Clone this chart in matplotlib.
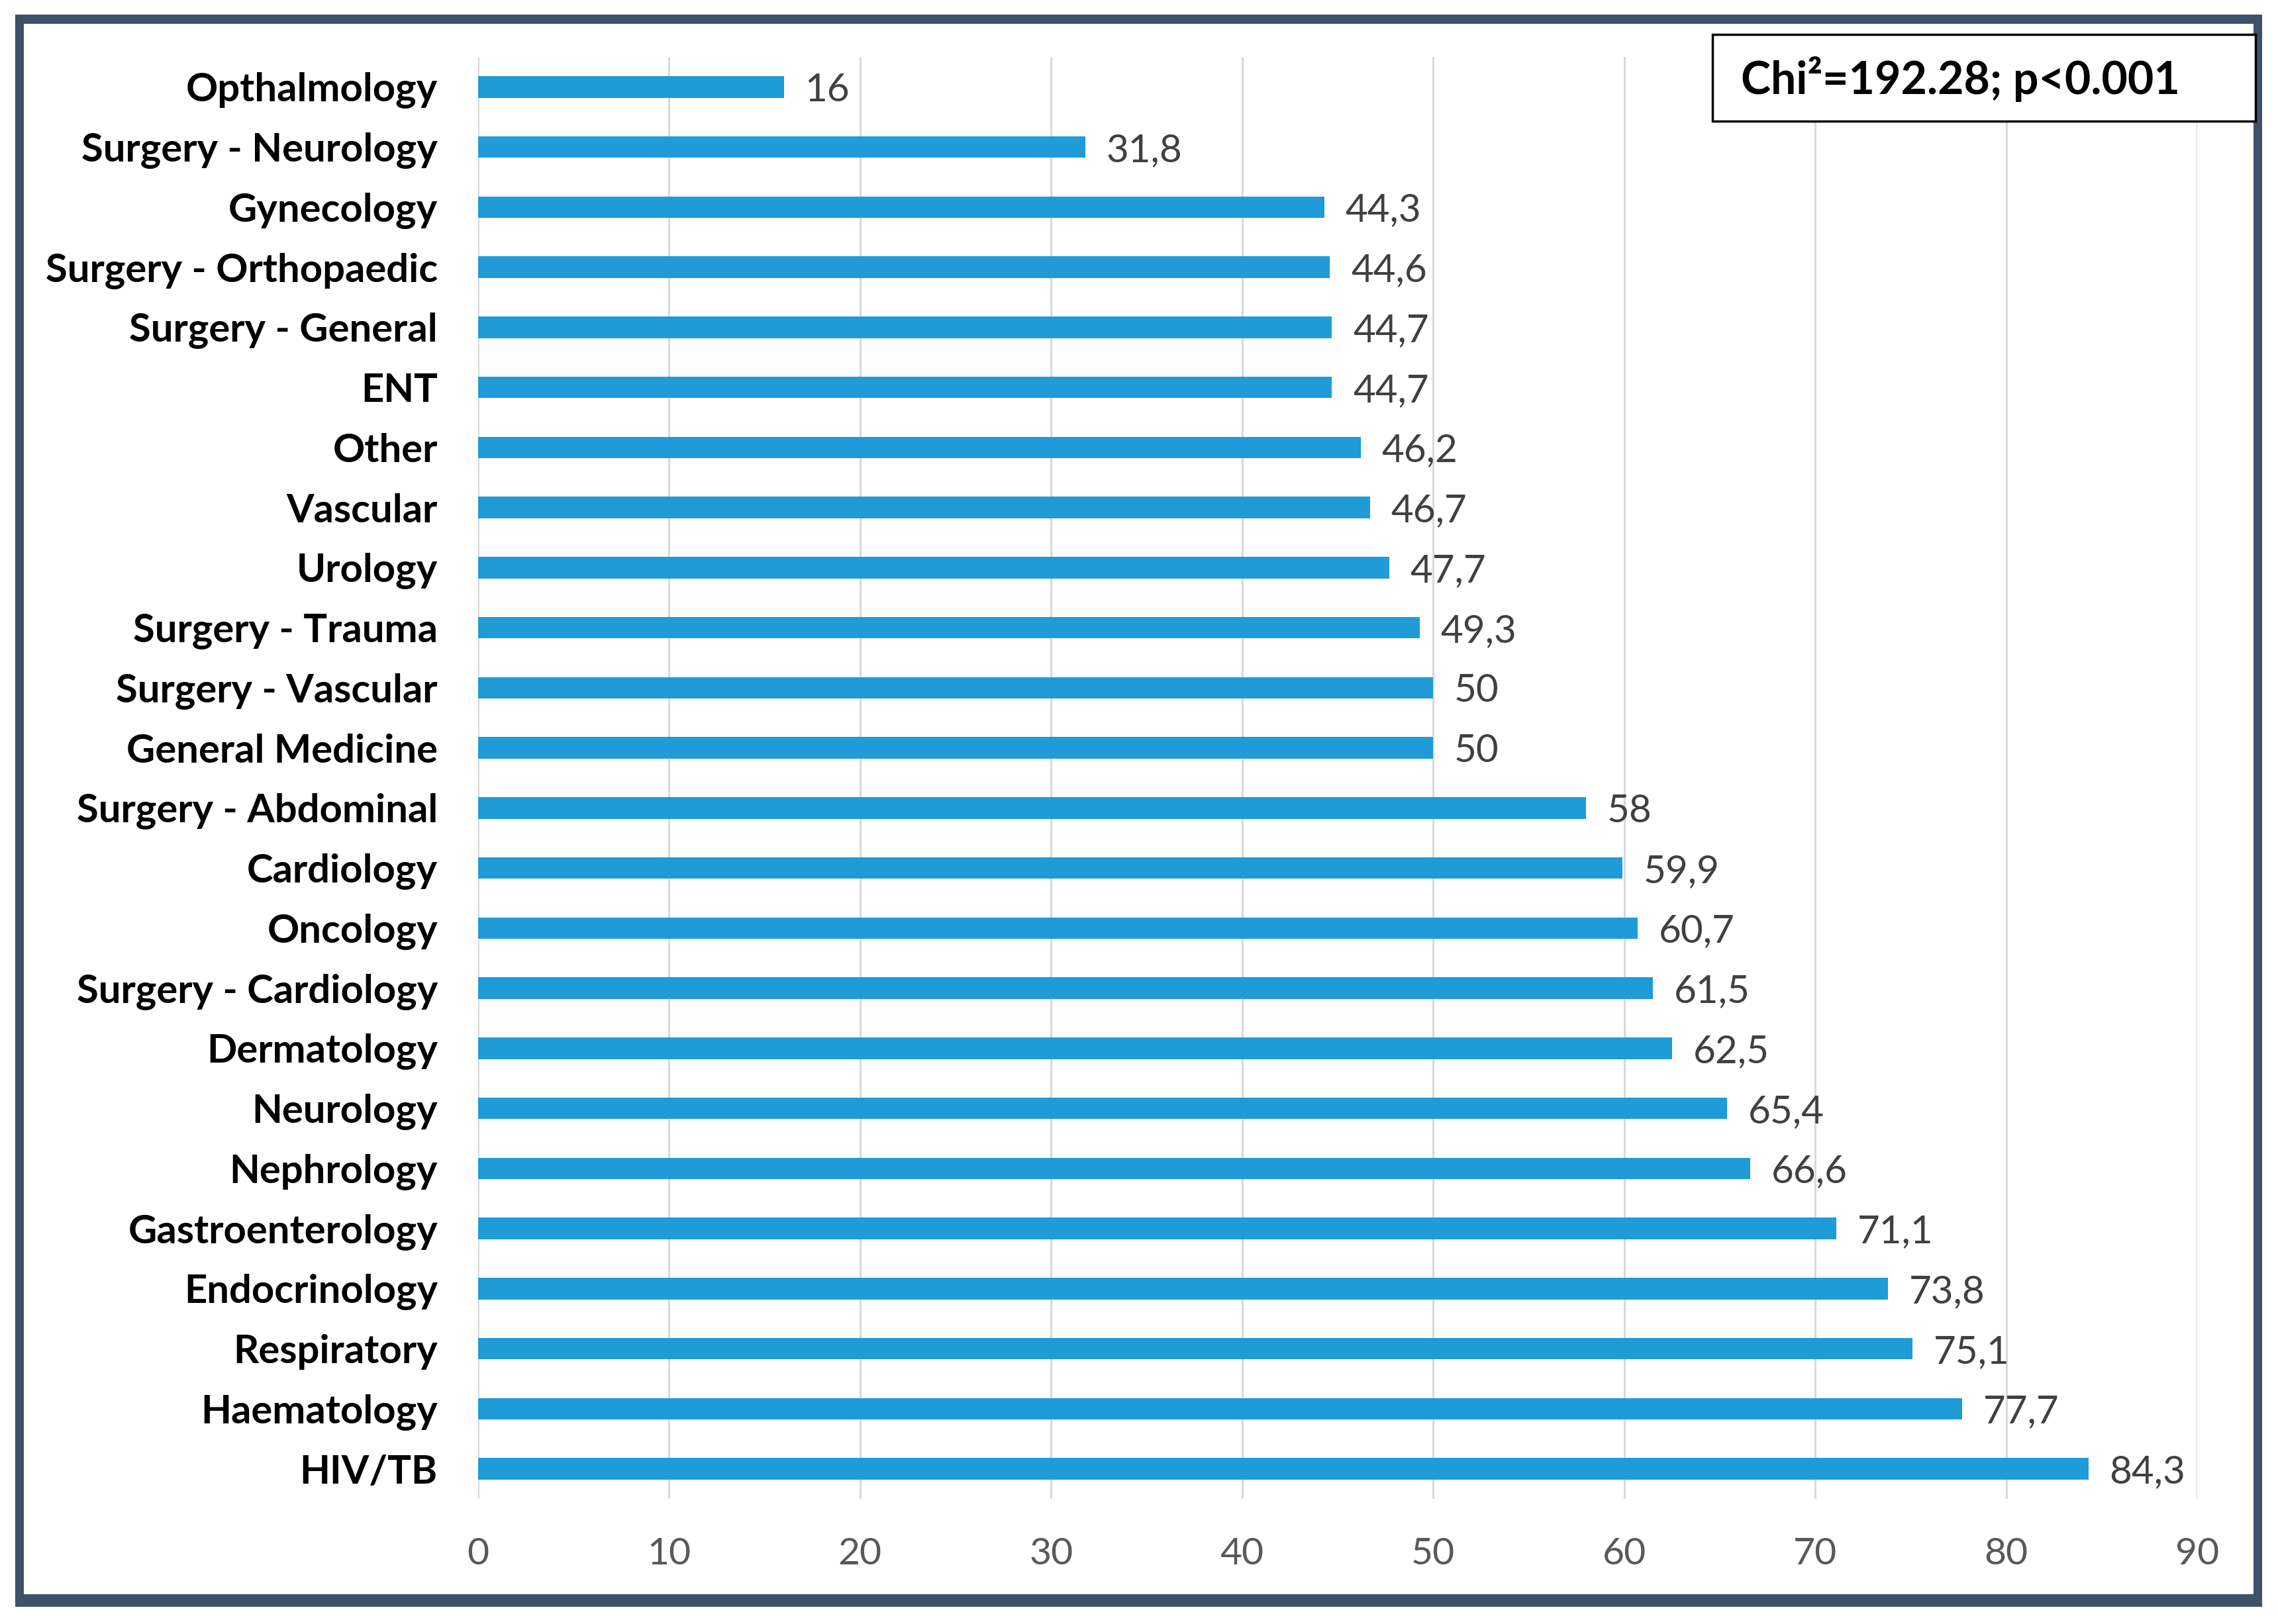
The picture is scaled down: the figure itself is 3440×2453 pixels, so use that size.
import matplotlib
matplotlib.use('Agg')
import matplotlib.pyplot as plt
from matplotlib.patches import Rectangle

plt.rcParams['font.family'] = ['Lato', 'DejaVu Sans']

# data, top to bottom as in the chart
departments = ['Opthalmology', 'Surgery - Neurology', 'Gynecology', 'Surgery - Orthopaedic',
               'Surgery - General', 'ENT', 'Other', 'Vascular', 'Urology', 'Surgery - Trauma',
               'Surgery - Vascular', 'General Medicine', 'Surgery - Abdominal', 'Cardiology',
               'Oncology', 'Surgery - Cardiology', 'Dermatology', 'Neurology', 'Nephrology',
               'Gastroenterology', 'Endocrinology', 'Respiratory', 'Haematology', 'HIV/TB']
values = [16, 31.8, 44.3, 44.6, 44.7, 44.7, 46.2, 46.7, 47.7, 49.3,
          50, 50, 58, 59.9, 60.7, 61.5, 62.5, 65.4, 66.6,
          71.1, 73.8, 75.1, 77.7, 84.3]
x_ticks = [0, 10, 20, 30, 40, 50, 60, 70, 80, 90]
stat_text = 'Chi\u00b2=192.28; p<0.001'

W, H = 3441, 2453
fig = plt.figure(figsize=(W / 100, H / 100), dpi=100)

# dark frame round the figure
fig.patches.append(Rectangle((23 / W, 1 - 2427 / H), (3416 - 23) / W, (2427 - 22) / H,
                             transform=fig.transFigure, facecolor='#3d5269', edgecolor='none', zorder=-2))
fig.patches.append(Rectangle((36 / W, 1 - 2408 / H), (3403 - 36) / W, (2408 - 36) / H,
                             transform=fig.transFigure, facecolor='white', edgecolor='none', zorder=-1))

ax = fig.add_axes([722 / W, 1 - 2264 / H, (3318 - 722) / W, (2264 - 86) / H])
ax.set_facecolor('none')
ax.set_zorder(1)

pos = list(range(len(departments)))
ax.barh(pos, values, height=0.36, color='#1f9bd7', zorder=3)

for p, v in zip(pos, values):
    lab = f'{v:g}'.replace('.', ',')
    ax.text(v + 1.1, p, lab, va='center_baseline', ha='left', fontsize=42, color='#404040')

ax.set_ylim(len(departments) - 0.5, -0.5)
ax.set_yticks(pos)
ax.set_yticklabels(departments, fontsize=43, fontweight='bold', color='black')
ax.set_xlim(0, 90)
ax.set_xticks(x_ticks)
ax.set_xticklabels([str(t) for t in x_ticks], fontsize=41, color='#595959')
ax.tick_params(axis='both', length=0)
ax.tick_params(axis='y', pad=44)
ax.tick_params(axis='x', pad=42)
ax.xaxis.grid(True, color='#d9d9d9', linewidth=2.2, zorder=0)
ax.set_axisbelow(True)
for s in ax.spines.values():
    s.set_visible(False)

# statistics box
fig.patches.append(Rectangle((2586 / W, 1 - 183 / H), (3406 - 2586) / W, (183 - 52) / H,
                             transform=fig.transFigure, facecolor='white', edgecolor='black',
                             linewidth=2.5, zorder=5))
fig.text(2629 / W, 1 - 119 / H, stat_text, fontsize=49, fontweight='bold',
         va='center', ha='left', zorder=6)

fig.savefig('out.png', dpi=100)
